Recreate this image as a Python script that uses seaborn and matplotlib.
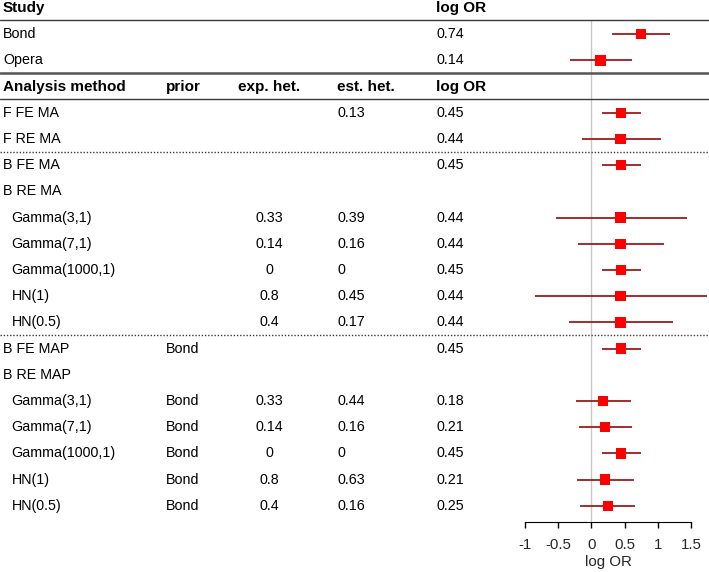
import matplotlib
matplotlib.use('Agg')
import numpy as np
import pandas as pd
import seaborn as sns
import matplotlib.pyplot as plt
import matplotlib.transforms as mtransforms

sns.set_style("white")
plt.rcParams['font.family'] = ['Liberation Sans', 'DejaVu Sans']

# studies
study_names = ["Bond", "Opera"]
study_est = [0.74, 0.14]
study_lo = [0.315, -0.315]
study_hi = [1.18, 0.605]

# analysis methods (None = group heading without estimate)
method_names = ["F FE MA", "F RE MA", "B FE MA", "B RE MA",
                "Gamma(3,1)", "Gamma(7,1)", "Gamma(1000,1)", "HN(1)", "HN(0.5)",
                "B FE MAP", "B RE MAP",
                "Gamma(3,1)", "Gamma(7,1)", "Gamma(1000,1)", "HN(1)", "HN(0.5)"]
method_indent = [0, 0, 0, 0, 1, 1, 1, 1, 1, 0, 0, 1, 1, 1, 1, 1]
prior = ["", "", "", "", "", "", "", "", "",
         "Bond", "", "Bond", "Bond", "Bond", "Bond", "Bond"]
exp_het = ["", "", "", "", "0.33", "0.14", "0", "0.8", "0.4",
           "", "", "0.33", "0.14", "0", "0.8", "0.4"]
est_het = ["0.13", "", "", "", "0.39", "0.16", "0", "0.45", "0.17",
           "", "", "0.44", "0.16", "0", "0.63", "0.16"]
method_est = [0.45, 0.44, 0.45, None, 0.44, 0.44, 0.45, 0.44, 0.44,
              0.45, None, 0.18, 0.21, 0.45, 0.21, 0.25]
method_lo = [0.16, -0.14, 0.16, None, -0.53, -0.195, 0.16, -0.845, -0.34,
             0.16, None, -0.235, -0.185, 0.16, -0.21, -0.17]
method_hi = [0.745, 1.04, 0.745, None, 1.43, 1.09, 0.745, 1.73, 1.23,
             0.745, None, 0.595, 0.615, 0.745, 0.64, 0.66]

xticks = [-1, -0.5, 0, 0.5, 1, 1.5]

# row positions: 0 = study header, 3 = method header
study_rows = [1, 2]
method_rows = list(range(4, 4 + len(method_names)))

df = pd.DataFrame({
    "row": study_rows + method_rows,
    "est": study_est + method_est,
    "lo": study_lo + method_lo,
    "hi": study_hi + method_hi,
}).dropna()

W, H = 709, 572
fig = plt.figure(figsize=(W / 100, H / 100), dpi=100)
ax_bottom = 522
ax = fig.add_axes([0, 1 - ax_bottom / H, 1, ax_bottom / H])

# x scale: 0 at 591.3 px, 66.7 px per unit; rows every 26.2 px from y=8
px0, ppu = 591.3, 66.7
ax.set_xlim(-px0 / ppu, (W - px0) / ppu)
ax.set_ylim((ax_bottom - 8) / 26.2, -8 / 26.2)
ybot = (ax_bottom - 8) / 26.2

# separators
lc = "#3a3a3a"
ax.axhline(0.46, color=lc, lw=1.0)
ax.axhline(2.5, color="#555555", lw=1.8)
ax.axhline(3.48, color=lc, lw=1.0)
ax.axhline(5.5, color=lc, lw=1.0, ls=(0, (1, 1.3)))
ax.axhline(12.48, color=lc, lw=1.0, ls=(0, (1, 1.3)))
ax.vlines(0, 0.46, ybot, color="#c8c8c8", lw=1.0, zorder=1)

# CIs and points
ax.hlines(df["row"], df["lo"], df["hi"], color="#9b1c1c", lw=1.3, zorder=2)
sns.scatterplot(data=df, x="est", y="row", marker="s", s=55, color="#ff0000",
                edgecolor="none", ax=ax, zorder=3, legend=False)

# text table
tr = mtransforms.blended_transform_factory(fig.transFigure, ax.transData)
fs = 10.3
cx = {"name": 3 / W, "ind": 11.5 / W, "prior": 166 / W, "exp": 269 / W,
      "est": 337 / W, "logor": 436 / W}

def put(x, y, s, bold=False, ha="left"):
    ax.text(x, y, s, transform=tr, fontsize=fs + 0.7 if bold else fs,
            va="center", ha=ha, fontweight="bold" if bold else "normal",
            color="black")

put(cx["name"], 0, "Study", bold=True)
put(cx["logor"], 0, "log OR", bold=True)
for r, n, e in zip(study_rows, study_names, study_est):
    put(cx["name"], r, n)
    put(cx["logor"], r, f"{e:g}")

put(cx["name"], 3, "Analysis method", bold=True)
put(cx["prior"], 3, "prior", bold=True)
put(cx["exp"], 3, "exp. het.", bold=True, ha="center")
put(cx["est"], 3, "est. het.", bold=True)
put(cx["logor"], 3, "log OR", bold=True)
for i, r in enumerate(method_rows):
    put(cx["ind"] if method_indent[i] else cx["name"], r, method_names[i])
    put(cx["prior"], r, prior[i])
    put(cx["exp"], r, exp_het[i], ha="center")
    put(cx["est"], r, est_het[i])
    if method_est[i] is not None:
        put(cx["logor"], r, f"{method_est[i]:g}")

# x axis
for s in ["top", "left", "right"]:
    ax.spines[s].set_visible(False)
ax.spines["bottom"].set_bounds(xticks[0], xticks[-1])
ax.spines["bottom"].set_color("black")
ax.set_xticks(xticks)
ax.set_xticklabels([f"{t:g}" for t in xticks], fontsize=fs + 0.5)
ax.tick_params(axis="x", bottom=True, direction="out", length=4.5, width=1,
               color="black", pad=7)
ax.set_yticks([])
ax.set_xlabel("")
ax.set_ylabel("")
xt = mtransforms.blended_transform_factory(ax.transData, fig.transFigure)
ax.text(np.mean([xticks[0], xticks[-1]]), 1 - 562 / H, "log OR", transform=xt,
        ha="center", va="center", fontsize=fs + 0.5)

fig.savefig("out.png", dpi=100)
